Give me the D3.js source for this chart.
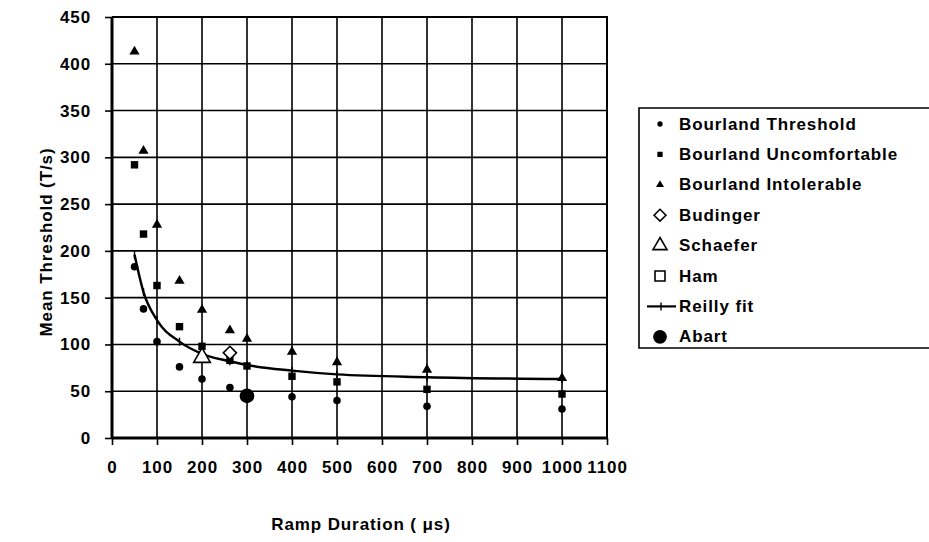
<!DOCTYPE html>
<html>
<head>
<meta charset="utf-8">
<title>Mean threshold vs ramp duration</title>
<script src="https://cdn.jsdelivr.net/npm/d3@7"></script>
<style>
body { margin: 0; background: #fff; }
svg text { font-family: "Liberation Sans", Arial, sans-serif; font-weight: bold; fill: #000; letter-spacing: 0.9px; }
</style>
</head>
<body>
<div id="chart"></div>
<script>
// values
const xTicks = [0, 100, 200, 300, 400, 500, 600, 700, 800, 900, 1000, 1100];
const yTicks = [0, 50, 100, 150, 200, 250, 300, 350, 400, 450];

const thresholdX = [50, 70, 100, 150, 200, 262, 300, 400, 500, 700, 1000];
const thresholdY = [183, 138, 103, 76, 63, 54, 46, 44, 40, 34, 31];
const uncomfX = [50, 70, 100, 150, 200, 262, 300, 400, 500, 700, 1000];
const uncomfY = [292, 218, 163, 119, 98, 83, 77, 66, 60, 52, 47];
const intolX = [50, 70, 100, 150, 200, 262, 300, 400, 500, 700, 1000];
const intolY = [413, 307, 228, 168, 137, 115, 106, 92, 81, 73, 64];
const budingerX = [262], budingerY = [91];
const schaeferX = [200], schaeferY = [86];
const hamX = [], hamY = [];
const reillyX = [50, 70, 100, 150, 200, 262, 300, 400, 500, 700, 1000];
const reillyY = [196, 156, 126, 103, 90, 82, 78, 72, 68, 65, 63];
const abartX = [300], abartY = [45];

const legendLabels = ["Bourland Threshold", "Bourland Uncomfortable", "Bourland Intolerable",
  "Budinger", "Schaefer", "Ham", "Reilly fit", "Abart"];

const width = 929, height = 542;
const margin = {left: 112, right: 322, top: 17, bottom: 104};

const svg = d3.select("#chart").append("svg")
    .attr("width", width)
    .attr("height", height);

const x = d3.scaleLinear().domain([0, 1100]).range([margin.left, width - margin.right]);
const y = d3.scaleLinear().domain([0, 450]).range([height - margin.bottom, margin.top]);

const zip = (xs, ys) => xs.map((v, i) => [v, ys[i]]);

// grid
svg.append("g")
  .selectAll("line.v")
  .data(xTicks.slice(1))
  .join("line")
    .attr("x1", d => x(d)).attr("x2", d => x(d))
    .attr("y1", y(0)).attr("y2", y(450))
    .attr("stroke", "#000").attr("stroke-width", 1.6);

svg.append("g")
  .selectAll("line.h")
  .data(yTicks.slice(1))
  .join("line")
    .attr("x1", x(0)).attr("x2", x(1100))
    .attr("y1", d => y(d)).attr("y2", d => y(d))
    .attr("stroke", "#000").attr("stroke-width", 1.6);

// axes
const xAxis = svg.append("g")
    .attr("transform", `translate(0,${y(0)})`)
    .call(d3.axisBottom(x).tickValues(xTicks).tickSize(7).tickPadding(16).tickFormat(d3.format("d")));
const yAxis = svg.append("g")
    .attr("transform", `translate(${x(0)},0)`)
    .call(d3.axisLeft(y).tickValues(yTicks).tickSize(7).tickPadding(14).tickFormat(d3.format("d")));

[xAxis, yAxis].forEach(g => {
  g.select(".domain").attr("stroke", "#000").attr("stroke-width", 3);
  g.selectAll(".tick line").attr("stroke", "#000").attr("stroke-width", 1.6);
  g.selectAll(".tick text").attr("font-size", 17).attr("font-family", null);
});
xAxis.select(".domain").attr("d", `M${x(0)},0H${x(1100)}`);
yAxis.select(".domain").attr("d", `M0,${y(0)}V${y(450)}`);

// frame top and right
svg.append("path")
    .attr("d", `M${x(0)},${y(450)}H${x(1100)}V${y(0)}`)
    .attr("fill", "none").attr("stroke", "#000").attr("stroke-width", 2);

// axis titles
svg.append("text")
    .attr("x", 361).attr("y", 530)
    .attr("text-anchor", "middle")
    .attr("font-size", 17)
    .text("Ramp Duration ( μs)");

svg.append("text")
    .attr("transform", "translate(46,242) rotate(-90)")
    .attr("text-anchor", "middle")
    .attr("dominant-baseline", "central")
    .attr("font-size", 17)
    .text("Mean Threshold (T/s)");

// Reilly fit
const fit = svg.append("g");
fit.append("path")
    .datum(zip(reillyX, reillyY))
    .attr("d", d3.line().x(d => x(d[0])).y(d => y(d[1])).curve(d3.curveMonotoneX))
    .attr("fill", "none").attr("stroke", "#000").attr("stroke-width", 2.4);
fit.selectAll("line")
  .data(zip(reillyX, reillyY))
  .join("line")
    .attr("x1", d => x(d[0])).attr("x2", d => x(d[0]))
    .attr("y1", d => y(d[1]) - 4).attr("y2", d => y(d[1]) + 4)
    .attr("stroke", "#000").attr("stroke-width", 1.4);

// point series
const sym = (type, size) => d3.symbol().type(type).size(size)();

function drawSeries(xs, ys, type, size, filled) {
  svg.append("g")
    .selectAll("path")
    .data(zip(xs, ys))
    .join("path")
      .attr("transform", d => `translate(${x(d[0])},${y(d[1])})`)
      .attr("d", sym(type, size))
      .attr("fill", filled ? "#000" : "#fff")
      .attr("stroke", "#000")
      .attr("stroke-width", filled ? 0 : 1.6);
}

drawSeries(thresholdX, thresholdY, d3.symbolCircle, 45, true);
drawSeries(uncomfX, uncomfY, d3.symbolSquare, 55, true);
drawSeries(intolX, intolY, d3.symbolTriangle, 45, true);
drawSeries(hamX, hamY, d3.symbolSquare, 110, false);
drawSeries(schaeferX, schaeferY, d3.symbolTriangle, 120, false);
drawSeries(budingerX, budingerY, d3.symbolDiamond2, 110, false);
drawSeries(abartX, abartY, d3.symbolCircle, 170, true);

// legend
const lg = svg.append("g");
lg.append("path")
    .attr("d", `M${width + 2},108H639V348H${width + 2}`)
    .attr("fill", "#fff").attr("stroke", "#000").attr("stroke-width", 1.6);

const legendMarks = [
  {type: d3.symbolCircle, size: 22, filled: true},
  {type: d3.symbolSquare, size: 28, filled: true},
  {type: d3.symbolTriangle, size: 28, filled: true},
  {type: d3.symbolDiamond2, size: 90, filled: false},
  {type: d3.symbolTriangle, size: 85, filled: false},
  {type: d3.symbolSquare, size: 100, filled: false},
  {type: "line"},
  {type: d3.symbolCircle, size: 150, filled: true}
];

const ly = i => 124 + i * 30.4;

legendLabels.forEach((label, i) => {
  const m = legendMarks[i];
  if (m.type === "line") {
    lg.append("line").attr("x1", 647).attr("x2", 676).attr("y1", ly(i)).attr("y2", ly(i))
      .attr("stroke", "#000").attr("stroke-width", 2.2);
    lg.append("line").attr("x1", 661).attr("x2", 661).attr("y1", ly(i) - 4).attr("y2", ly(i) + 4)
      .attr("stroke", "#000").attr("stroke-width", 1.4);
  } else {
    lg.append("path")
      .attr("transform", `translate(660,${ly(i)})`)
      .attr("d", sym(m.type, m.size))
      .attr("fill", m.filled ? "#000" : "#fff")
      .attr("stroke", "#000")
      .attr("stroke-width", m.filled ? 0 : 1.6);
  }
  lg.append("text")
    .attr("x", 679).attr("y", ly(i))
    .attr("dominant-baseline", "central")
    .attr("font-size", 17)
    .text(label);
});
</script>
</body>
</html>
